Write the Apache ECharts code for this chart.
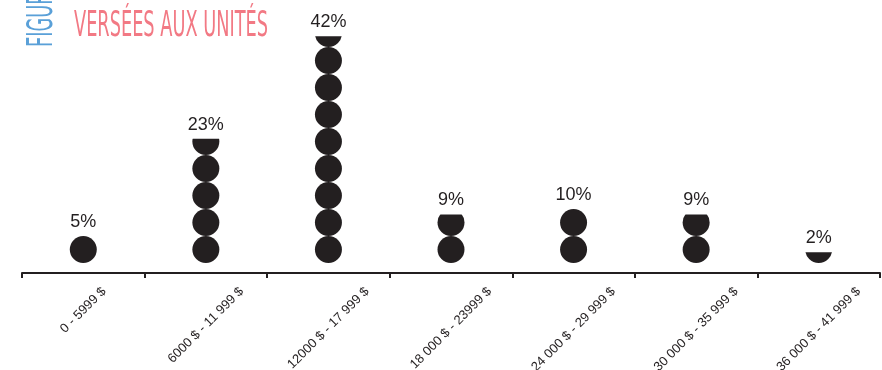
<!DOCTYPE html>
<html>
<head>
<meta charset="utf-8">
<script src="https://cdn.jsdelivr.net/npm/echarts@6/dist/echarts.min.js"></script>
<style>
  html, body { margin: 0; padding: 0; background: #ffffff; }
  #chart { width: 882px; height: 370px; }
</style>
</head>
<body>
<div id="chart"></div>
<script>
// Income brackets and share of awards (%) in each bracket
const categories = [
  '0 - 5999 $',
  '6000 $ - 11 999 $',
  '12000 $ - 17 999 $',
  '18 000 $ - 23999 $',
  '24 000 $ - 29 999 $',
  '30 000 $ - 35 999 $',
  '36 000 $ - 41 999 $'
];
const shares = [5, 23, 42, 9, 10, 9, 2];

// Each dot stands for 5 %; columns are laid out over 45 % (nine dots)
const valueMax = 45;

const titleText = 'VERSÉES AUX UNITÉS';
const figureText = 'FIGURE';

const ink = '#231f20';
const labelFont = '"Liberation Sans", Arial, Helvetica, sans-serif';
const titleFont = '"Liberation Sans Narrow", "DejaVu Sans Condensed", "Liberation Sans", sans-serif';

const measureCtx = document.createElement('canvas').getContext('2d');
function textWidth(text, font) {
  measureCtx.font = font;
  return measureCtx.measureText(text).width;
}

const axisLabelFont = '13px ' + labelFont;
const titleSize = 36;
const titleScale = 194 / textWidth(titleText, titleSize + 'px ' + titleFont);

// Slanted bracket names: centred under each column, upper ends aligned
function renderBracketLabel(params, api) {
  const idx = api.value(0);
  const base = api.coord([idx, 0]);
  const text = categories[idx];
  const w = textWidth(text, axisLabelFont);
  return {
    type: 'text',
    x: base[0],
    y: base[1] + 26.5 + w * 0.354,
    rotation: Math.PI / 4,
    silent: true,
    style: {
      text: text,
      font: axisLabelFont,
      fill: ink,
      align: 'center',
      verticalAlign: 'middle'
    }
  };
}

const chart = echarts.init(document.getElementById('chart'), null, { renderer: 'canvas' });

chart.setOption({
  backgroundColor: '#ffffff',
  animation: false,
  grid: { left: 22, right: 2, top: 20, bottom: 107, outerBoundsMode: 'none', containLabel: false },
  xAxis: {
    type: 'category',
    data: categories,
    offset: 10,
    axisLine: { onZero: false, lineStyle: { color: ink, width: 2 } },
    axisTick: { show: true, interval: 0, length: 5, lineStyle: { color: ink, width: 2 } },
    axisLabel: { show: false, interval: 0 }
  },
  yAxis: {
    type: 'value',
    min: 0,
    max: valueMax,
    show: false,
    splitLine: { show: false }
  },
  series: [
    {
      type: 'pictorialBar',
      data: shares,
      symbol: 'circle',
      symbolSize: [27, 27],
      symbolRepeat: true,
      symbolClip: true,
      symbolMargin: 0,
      symbolBoundingData: valueMax,
      itemStyle: { color: ink },
      silent: true
    },
    {
      // value labels sitting on the exact share of each column
      type: 'bar',
      data: shares,
      barWidth: 27,
      itemStyle: { color: 'rgba(0,0,0,0)' },
      silent: true,
      label: {
        show: true,
        position: 'top',
        distance: 5,
        formatter: '{c}%',
        fontSize: 18,
        fontFamily: labelFont,
        color: ink
      }
    },
    {
      type: 'custom',
      data: categories.map(function (c, i) { return [i, 0]; }),
      encode: { x: 0, y: 1 },
      renderItem: renderBracketLabel,
      clip: false,
      silent: true
    }
  ],
  graphic: [
    {
      type: 'text',
      x: 74,
      y: 27,
      scaleX: titleScale,
      style: {
        text: titleText,
        font: titleSize + 'px ' + titleFont,
        fill: '#f27984',
        align: 'left',
        verticalAlign: 'middle'
      }
    },
    {
      type: 'text',
      x: 43,
      y: 47,
      rotation: Math.PI / 2,
      scaleX: titleScale,
      style: {
        text: figureText,
        font: titleSize + 'px ' + titleFont,
        fill: '#5aa0d8',
        align: 'left',
        verticalAlign: 'middle'
      }
    }
  ]
});
</script>
</body>
</html>
